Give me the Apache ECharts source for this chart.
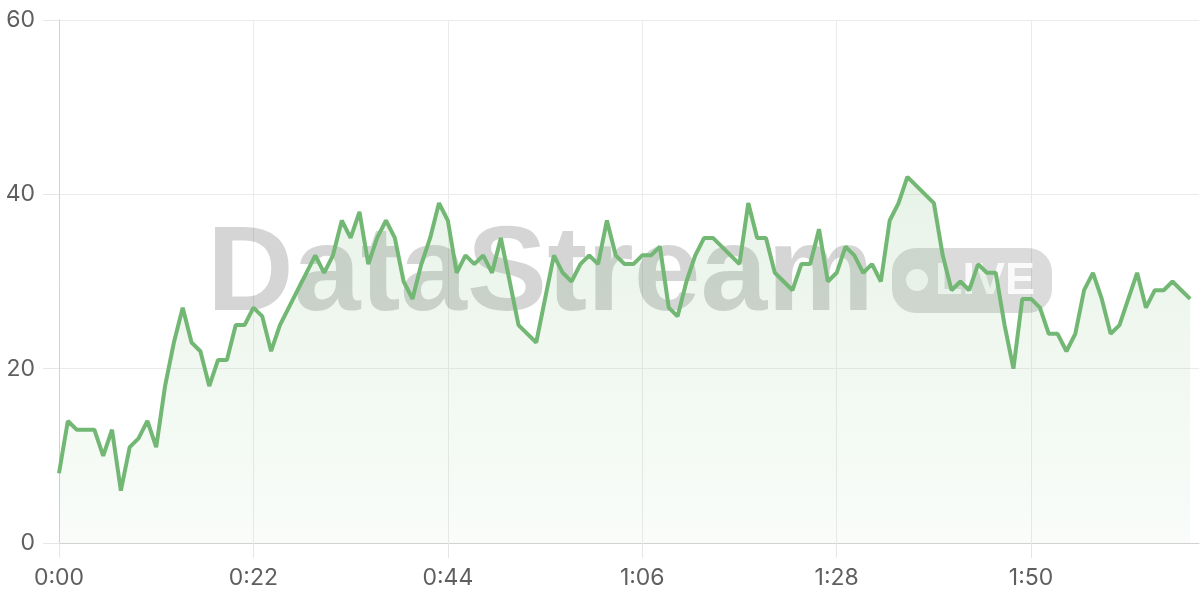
<!DOCTYPE html>
<html>
<head>
<meta charset="utf-8">
<style>
  html, body { margin: 0; padding: 0; background: #ffffff; }
  #chart { width: 1200px; height: 600px; }
</style>
<script src="https://cdn.jsdelivr.net/npm/echarts@6/dist/echarts.min.js"></script>
</head>
<body>
<div id="chart"></div>
<script>
// ---- data ----
const slotCount = 130; // one category per second, 0:00 .. 2:09
const values = [
  8, 14, 13, 13, 13, 10, 13, 6, 11, 12,
  14, 11, 18, 23, 27, 23, 22, 18, 21, 21,
  25, 25, 27, 26, 22, 25, 27, 29, 31, 33,
  31, 33, 37, 35, 38, 32, 35, 37, 35, 30,
  28, 32, 35, 39, 37, 31, 33, 32, 33, 31,
  35, 30, 25, 24, 23, 28, 33, 31, 30, 32,
  33, 32, 37, 33, 32, 32, 33, 33, 34, 27,
  26, 30, 33, 35, 35, 34, 33, 32, 39, 35,
  35, 31, 30, 29, 32, 32, 36, 30, 31, 34,
  33, 31, 32, 30, 37, 39, 42, 41, 40, 39,
  33, 29, 30, 29, 32, 31, 31, 25, 20, 28,
  28, 27, 24, 24, 22, 24, 29, 31, 28, 24,
  25, 28, 31, 27, 29, 29, 30, 29, 28
];
const yTicks = [0, 20, 40, 60];
const labelEvery = 22; // x labels: 0:00, 0:22, 0:44, 1:06, 1:28, 1:50

function fmt(sec) {
  const m = Math.floor(sec / 60);
  const s = sec % 60;
  return m + ':' + (s < 10 ? '0' : '') + s;
}
const categories = [];
for (let i = 0; i < slotCount; i++) categories.push(fmt(i));

// ---- chart ----
const chart = echarts.init(document.getElementById('chart'), null, { renderer: 'canvas' });
const lineColor = '#72b874';
const labelFont = 'Inter, "Noto Sans", sans-serif';

chart.setOption({
  animation: false,
  backgroundColor: '#ffffff',
  grid: { left: 59, right: 1, top: 20, bottom: 57, containLabel: false },
  xAxis: {
    type: 'category',
    data: categories,
    boundaryGap: false,
    axisLine: { show: true, lineStyle: { color: '#d2d2d2', width: 1 } },
    axisTick: { show: true, interval: labelEvery - 1, length: 15, lineStyle: { color: '#e6e6e6' } },
    axisLabel: { interval: labelEvery - 1, margin: 24, color: '#5f5f5f', fontSize: 23, fontFamily: labelFont },
    splitLine: { show: true, interval: labelEvery - 1, lineStyle: { color: '#ebebeb', width: 1 } }
  },
  yAxis: {
    type: 'value',
    min: yTicks[0],
    max: yTicks[yTicks.length - 1],
    interval: yTicks[1] - yTicks[0],
    axisLine: { show: true, lineStyle: { color: '#d2d2d2', width: 1 } },
    axisTick: { show: true, length: 16, lineStyle: { color: '#e6e6e6' } },
    axisLabel: { margin: 24, color: '#5f5f5f', fontSize: 23, fontFamily: labelFont },
    splitLine: { show: true, lineStyle: { color: '#ebebeb', width: 1 } }
  },
  graphic: [
    {
      type: 'text', z: 1, silent: true,
      x: 207, y: 277,
      style: {
        text: 'DataStream',
        font: 'bold 120px "Liberation Sans", Arial, sans-serif',
        fill: 'rgba(0,0,0,0.165)',
        textAlign: 'left', textVerticalAlign: 'middle'
      }
    },
    {
      type: 'rect', z: 1, silent: true,
      shape: { x: 892, y: 248, width: 160, height: 65, r: 24 },
      style: { fill: 'rgba(0,0,0,0.14)' }
    },
    {
      type: 'circle', z: 1, silent: true,
      shape: { cx: 917, cy: 280, r: 11 },
      style: { fill: 'rgba(255,255,255,0.85)' }
    },
    {
      type: 'text', z: 1, silent: true,
      x: 935, y: 282,
      style: {
        text: 'LIVE',
        font: 'bold 45px "Liberation Sans", Arial, sans-serif',
        fill: 'rgba(255,255,255,0.85)',
        textAlign: 'left', textVerticalAlign: 'middle'
      }
    }
  ],
  series: [{
    type: 'line',
    data: values,
    symbol: 'none',
    smooth: false,
    z: 3,
    lineStyle: { color: lineColor, width: 4 },
    itemStyle: { color: lineColor },
    areaStyle: {
      color: new echarts.graphic.LinearGradient(0, 0, 0, 1, [
        { offset: 0, color: 'rgba(116,186,118,0.24)' },
        { offset: 1, color: 'rgba(116,186,118,0.06)' }
      ])
    }
  }]
});
</script>
</body>
</html>
